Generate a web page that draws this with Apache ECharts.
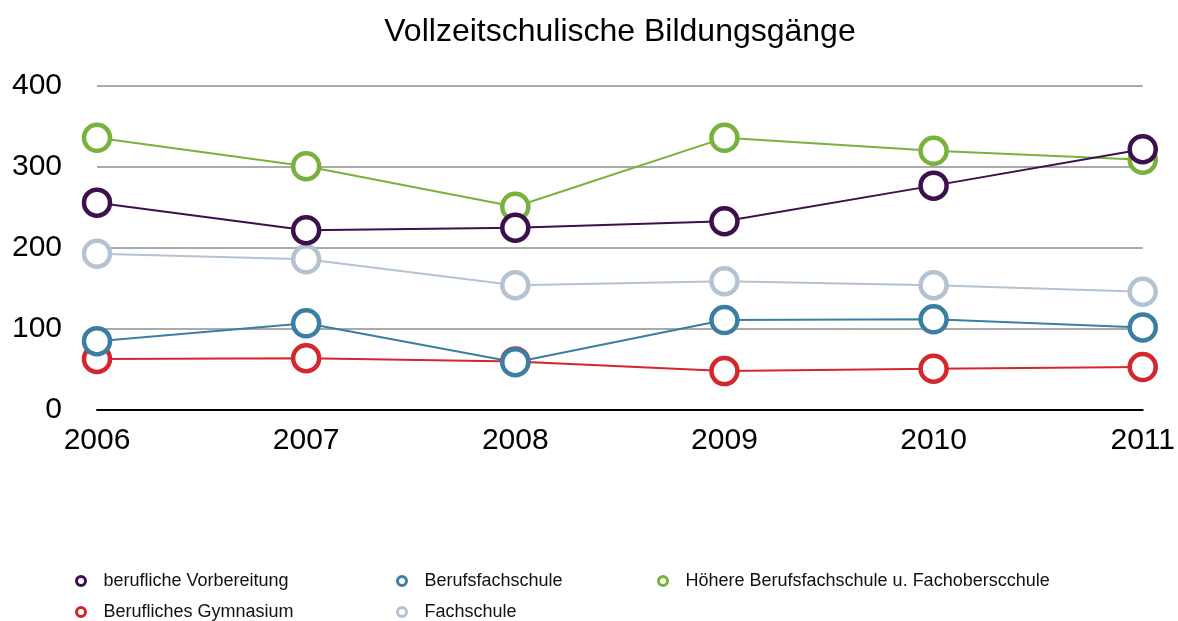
<!DOCTYPE html>
<html>
<head>
<meta charset="utf-8">
<script src="https://cdn.jsdelivr.net/npm/echarts@6/dist/echarts.min.js"></script>
<style>
  html, body { margin: 0; padding: 0; background: #fff; }
  #chart { width: 1178px; height: 621px; }
</style>
</head>
<body>
<div id="chart"></div>
<script>
var years = ['2006', '2007', '2008', '2009', '2010', '2011'];
var yTicks = [0, 100, 200, 300, 400];
// Werte je Bildungsgang
var gymnasium = [63, 64, 60, 48, 51, 53];
var fachschule = [193, 186, 154, 159, 154, 146];
var berufsfachschule = [85, 107, 59, 111, 112, 102];
var hoehere = [336, 301, 251, 336, 320, 309];
var vorbereitung = [256, 222, 225, 233, 277, 322];

var names = ['berufliche Vorbereitung', 'Berufliches Gymnasium', 'Berufsfachschule', 'Fachschule',
    'Höhere Berufsfachschule u. Fachoberscchule'];
var colors = {
    'berufliche Vorbereitung': '#3d0f4d',
    'Berufliches Gymnasium': '#d4262d',
    'Berufsfachschule': '#3a7ea3',
    'Fachschule': '#b4c3d2',
    'Höhere Berufsfachschule u. Fachoberscchule': '#78b13c'
};

var myChart = echarts.init(document.getElementById('chart'));

function makeSeries(name, data) {
    return {
        name: name,
        type: 'line',
        data: data,
        symbol: 'circle',
        symbolSize: 26,
        color: colors[name],
        lineStyle: { width: 2, color: colors[name] },
        itemStyle: { color: '#fff', borderColor: colors[name], borderWidth: 4.5 }
    };
}

// one legend per entry so the columns line up like the original
function makeLegend(name, left, top) {
    return {
        left: left,
        top: top,
        itemWidth: 9,
        itemHeight: 9,
        icon: 'circle',
        itemStyle: { color: '#fff', borderColor: colors[name], borderWidth: 3 },
        textStyle: { fontSize: 18, color: '#111', fontFamily: 'Liberation Sans', padding: [0, 0, 0, 13] },
        data: [name]
    };
}

myChart.setOption({
    animation: false,
    textStyle: { fontFamily: 'Liberation Sans' },
    title: {
        text: 'Vollzeitschulische Bildungsgänge',
        left: 615,
        top: 11,
        textAlign: 'center',
        textStyle: { fontSize: 32, fontWeight: 'normal', color: '#000', fontFamily: 'Liberation Sans' }
    },
    legend: [
        makeLegend(names[0], 70, 567),
        makeLegend(names[1], 70, 598),
        makeLegend(names[2], 391, 567),
        makeLegend(names[3], 391, 598),
        makeLegend(names[4], 652, 567)
    ],
    grid: { left: 97, right: 33, top: 86, bottom: 211 },
    xAxis: {
        type: 'category',
        data: years,
        boundaryGap: false,
        axisLine: { lineStyle: { color: '#000', width: 2 } },
        axisTick: { show: false },
        axisLabel: { fontSize: 30, color: '#000', margin: 16, fontFamily: 'Liberation Sans' }
    },
    yAxis: {
        type: 'value',
        min: yTicks[0],
        max: yTicks[yTicks.length - 1],
        interval: 100,
        axisLine: { show: false },
        axisTick: { show: false },
        axisLabel: { fontSize: 30, color: '#000', margin: 35, fontFamily: 'Liberation Sans' },
        splitLine: { lineStyle: { color: '#aaaaaa', width: 2 } }
    },
    series: [
        makeSeries(names[1], gymnasium),
        makeSeries(names[3], fachschule),
        makeSeries(names[2], berufsfachschule),
        makeSeries(names[4], hoehere),
        makeSeries(names[0], vorbereitung)
    ]
});
</script>
</body>
</html>
